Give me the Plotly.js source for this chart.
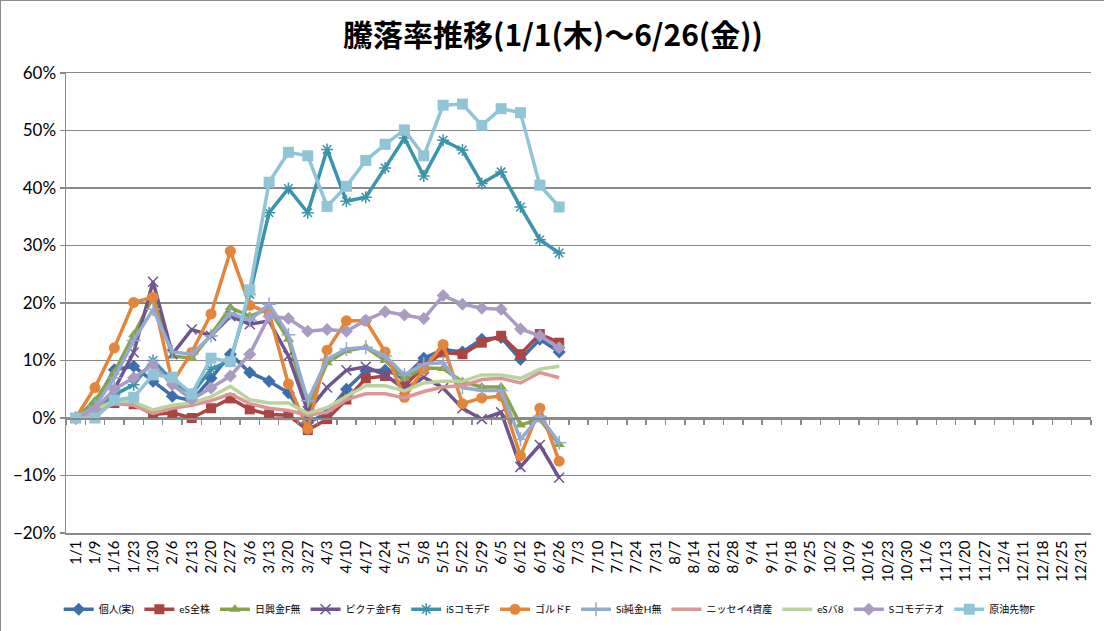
<!DOCTYPE html>
<html>
<head>
<meta charset="utf-8">
<script src="https://cdn.plot.ly/plotly-3.0.1.min.js"></script>
<style>
  html, body { margin: 0; padding: 0; background: #fff; }
  #chart { width: 1104px; height: 631px; box-sizing: border-box; border: 1px solid #8c8c8c; }
</style>
</head>
<body>
<div id="chart"></div>
<script>
const cats = ['1/1','1/9','1/16','1/23','1/30','2/6','2/13','2/20','2/27','3/6','3/13','3/20','3/27',
  '4/3','4/10','4/17','4/24','5/1','5/8','5/15','5/22','5/29','6/5','6/12','6/19','6/26',
  '7/3','7/10','7/17','7/24','7/31','8/7','8/14','8/21','8/28','9/4','9/11','9/18','9/25',
  '10/2','10/9','10/16','10/23','10/30','11/6','11/13','11/20','11/27','12/4','12/11','12/18','12/25','12/31'];
const dates = cats.slice(0, 26);

// 騰落率 (%)
const kojin      = [0, 2.5, 8.4, 9.0, 6.4, 3.8, 3.0, 6.9, 11.1, 7.9, 6.4, 4.4, -0.8, 0.8, 5.0, 8.2, 8.3, 7.1, 10.4, 11.9, 11.5, 13.7, 14.0, 10.2, 13.7, 11.5];
const esZenkabu  = [0, 1.2, 2.6, 2.4, 0.6, 0.9, 0.0, 1.7, 3.4, 1.5, 0.6, 0.5, -2.1, -0.2, 3.2, 6.9, 7.3, 5.5, 9.0, 11.4, 11.1, 13.1, 14.3, 11.1, 14.6, 13.1];
const nikkoKin   = [0, 3.0, 8.0, 14.5, 21.0, 10.8, 10.4, 14.5, 19.2, 17.7, 19.0, 13.7, 1.5, 9.6, 11.7, 12.3, 10.0, 6.9, 8.7, 8.6, 6.3, 5.4, 5.4, -1.2, -0.2, -4.6];
const pictetKin  = [0, 1.0, 5.0, 11.4, 23.7, 11.1, 15.4, 14.3, 17.7, 16.3, 16.9, 10.8, 1.2, 5.3, 8.3, 8.9, 7.5, 5.0, 7.1, 5.2, 1.7, -0.2, 1.0, -8.5, -4.7, -10.4];
const isCommo    = [0, 1.5, 4.0, 5.8, 10.0, 6.5, 4.1, 8.5, 10.0, 21.5, 35.7, 39.9, 35.7, 46.7, 37.7, 38.4, 43.5, 48.7, 42.1, 48.3, 46.6, 40.8, 42.8, 36.7, 31.0, 28.7];
const gold       = [0, 5.3, 12.2, 20.1, 21.0, 6.2, 11.4, 18.1, 29.0, 19.6, 18.3, 5.9, -1.9, 11.8, 16.9, 16.9, 11.5, 3.6, 8.5, 12.8, 2.5, 3.5, 3.8, -6.6, 1.7, -7.5];
const siJunkin   = [0, 2.0, 7.0, 13.5, 18.9, 11.5, 11.1, 14.3, 18.2, 17.0, 19.8, 14.5, 3.0, 10.2, 12.0, 12.3, 10.8, 7.5, 9.4, 9.6, 5.3, 4.8, 4.8, -3.7, 0.3, -4.3];
const nissay4    = [0, 1.0, 2.5, 2.2, 0.8, 1.7, 2.2, 3.0, 4.2, 2.5, 1.7, 1.3, 0.5, 1.0, 3.2, 4.2, 4.2, 3.5, 4.6, 5.4, 5.6, 6.7, 6.9, 6.1, 7.9, 7.0];
const esBal8     = [0, 1.5, 3.0, 2.8, 1.4, 2.2, 2.6, 3.7, 5.5, 3.2, 2.6, 2.6, 0.8, 1.8, 3.8, 5.6, 5.6, 4.7, 6.1, 6.4, 6.4, 7.5, 7.5, 6.9, 8.5, 9.0];
const sCommoTeo  = [0, 1.5, 5.0, 7.0, 9.3, 5.8, 3.2, 5.2, 7.3, 11.1, 17.7, 17.3, 15.1, 15.4, 15.1, 17.0, 18.5, 17.9, 17.3, 21.3, 19.8, 19.1, 18.9, 15.5, 14.3, 12.2];
const genyu      = [0, 0.0, 3.1, 3.6, 7.5, 7.1, 4.2, 10.4, 9.8, 22.3, 41.0, 46.2, 45.6, 36.8, 40.3, 44.8, 47.6, 50.1, 45.6, 54.4, 54.6, 50.9, 53.8, 53.1, 40.5, 36.7];

const fuente = "Lato, 'Noto Sans CJK JP', sans-serif";
const gris = '#8A8A8A';

function serie(nombre, valores, color, simbolo, tam) {
  const t = {
    x: dates,
    y: valores.map(v => v / 100),
    type: 'scatter',
    name: nombre,
    mode: simbolo ? 'lines+markers' : 'lines',
    line: { color: color, width: 3.5 }
  };
  if (simbolo) {
    const fino = simbolo.indexOf('thin') >= 0 || simbolo === 'asterisk';
    t.marker = {
      symbol: simbolo,
      size: tam || 9,
      color: color,
      line: { color: color, width: fino ? 1.5 : 0 }
    };
  }
  return t;
}

const trazas = [
  serie('個人(実)', kojin, '#3D6EAE', 'diamond', 10),
  serie('eS全株', esZenkabu, '#AB4442', 'square', 10),
  serie('日興金F無', nikkoKin, '#88A44A', 'triangle-up', 10),
  serie('ピクテ金F有', pictetKin, '#6E5590', 'x-thin', 10),
  serie('iSコモデF', isCommo, '#3B94AB', 'asterisk', 10),
  serie('ゴルドF', gold, '#E3853A', 'circle', 11),
  serie('Si純金H無', siJunkin, '#93AAD2', 'cross-thin', 10),
  serie('ニッセイ4資産', nissay4, '#D99796', null),
  serie('eSバ8', esBal8, '#BDD39D', null),
  serie('Sコモデテオ', sCommoTeo, '#A99CC2', 'diamond', 10),
  serie('原油先物F', genyu, '#92C4D7', 'square', 11),
  // all categories, only to span the axes
  { x: cats, y: cats.map(() => null), type: 'scatter', mode: 'lines', showlegend: false, hoverinfo: 'skip' },
  { x: cats, y: cats.map(() => null), type: 'scatter', mode: 'lines', xaxis: 'x2', showlegend: false, hoverinfo: 'skip' }
];

const layout = {
  width: 1104,
  height: 631,
  paper_bgcolor: '#fff',
  plot_bgcolor: '#fff',
  font: { family: fuente, color: '#000', size: 13 },
  title: {
    text: '<b>騰落率推移(1/1(木)～6/26(金))</b>',
    font: { size: 30, family: "'Noto Sans CJK JP', sans-serif", color: '#000' },
    x: 0.5, xanchor: 'center',
    y: 0.945, yanchor: 'middle'
  },
  margin: { l: 65, r: 14, t: 72, b: 99 },
  showlegend: true,
  legend: {
    orientation: 'h',
    xref: 'container', yref: 'container',
    x: 0.497, xanchor: 'center',
    y: 0.036, yanchor: 'middle',
    font: { size: 10, family: fuente },
    itemwidth: 30,
    tracegroupgap: 0
  },
  xaxis: {
    type: 'category',
    categoryorder: 'array',
    categoryarray: cats,
    range: [-0.5, cats.length - 0.5],
    tickmode: 'linear', dtick: 1,
    tickangle: -90,
    tickfont: { size: 15 },
    ticks: '',
    showgrid: false,
    showline: true, mirror: true,
    linecolor: gris, linewidth: 1.5,
    zeroline: false
  },
  xaxis2: {
    type: 'category',
    categoryorder: 'array',
    categoryarray: cats,
    range: [-0.5, cats.length - 0.5],
    overlaying: 'x',
    anchor: 'free',
    position: 0.25,
    side: 'bottom',
    tickmode: 'linear', dtick: 1,
    tickson: 'boundaries',
    ticks: 'outside', ticklen: 5, tickcolor: gris, tickwidth: 1.5,
    showticklabels: false,
    showgrid: false,
    showline: true, linecolor: gris, linewidth: 1.5
  },
  yaxis: {
    range: [-0.2, 0.6],
    dtick: 0.1,
    tickformat: '.0%',
    tickfont: { size: 17 },
    ticks: 'outside', ticklen: 5, tickcolor: gris, tickwidth: 1.5,
    showline: true, linecolor: gris, linewidth: 1.5,
    gridcolor: gris, gridwidth: 1.5,
    zeroline: false
  }
};

Plotly.newPlot('chart', trazas, layout, { displayModeBar: false, staticPlot: true });
</script>
</body>
</html>
